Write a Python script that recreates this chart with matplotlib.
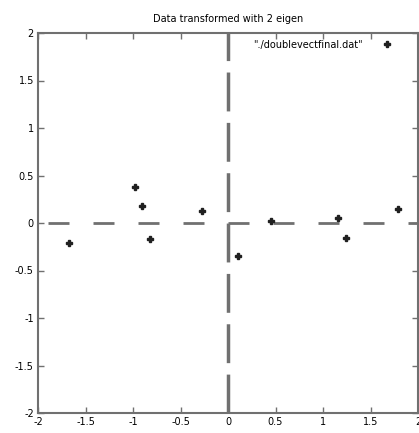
import matplotlib
matplotlib.use("Agg")
import matplotlib.pyplot as plt

x_vals = [-1.67, -0.98, -0.905, -0.82, -0.27, 0.11, 0.45, 1.16, 1.24, 1.79]
y_vals = [-0.21, 0.38, 0.18, -0.17, 0.13, -0.35, 0.02, 0.05, -0.16, 0.15]
ticks = [-2, -1.5, -1, -0.5, 0, 0.5, 1, 1.5, 2]
tick_labels = ["-2", "-1.5", "-1", "-0.5", "0", "0.5", "1", "1.5", "2"]
series_label = '"./doublevectfinal.dat"'
title = "Data transformed with 2 eigen"

fig = plt.figure(figsize=(4.19, 4.33), dpi=100)
ax = fig.add_axes([38/419, 20/433, 380/419, 380/433])
ax.set_xlim(-2, 2)
ax.set_ylim(-2, 2)

gray = "#707070"
# horizontal zero axis: lw 2 -> factor 2.78 px per unit
hl = ax.axhline(0, color=gray, lw=2.0)
hl.set_linestyle((16.2 - 3.6, (7.56, 8.64)))
vl = ax.axvline(0, color=gray, lw=2.5)
vl.set_linestyle((0, (11.2, 3.3)))

ax.plot(x_vals, y_vals, linestyle="none", marker="P", markersize=4.5,
        color="#202020", label=series_label)

ax.set_xticks(ticks)
ax.set_xticklabels(tick_labels)
ax.set_yticks(ticks)
ax.set_yticklabels(tick_labels)
ax.tick_params(direction="in", length=4, width=1, color=gray, labelsize=7,
               top=True, right=True, pad=3)
for s in ax.spines.values():
    s.set_color(gray)
    s.set_linewidth(1.5)

ax.set_title(title, fontsize=7, pad=8)
leg = ax.legend(loc="upper right", frameon=False, fontsize=7, markerfirst=False,
                handletextpad=2.06, handlelength=0.8, borderaxespad=0.3,
                bbox_to_anchor=(1 - 20.8/380, 1))
fig.savefig("out.png", dpi=100)
